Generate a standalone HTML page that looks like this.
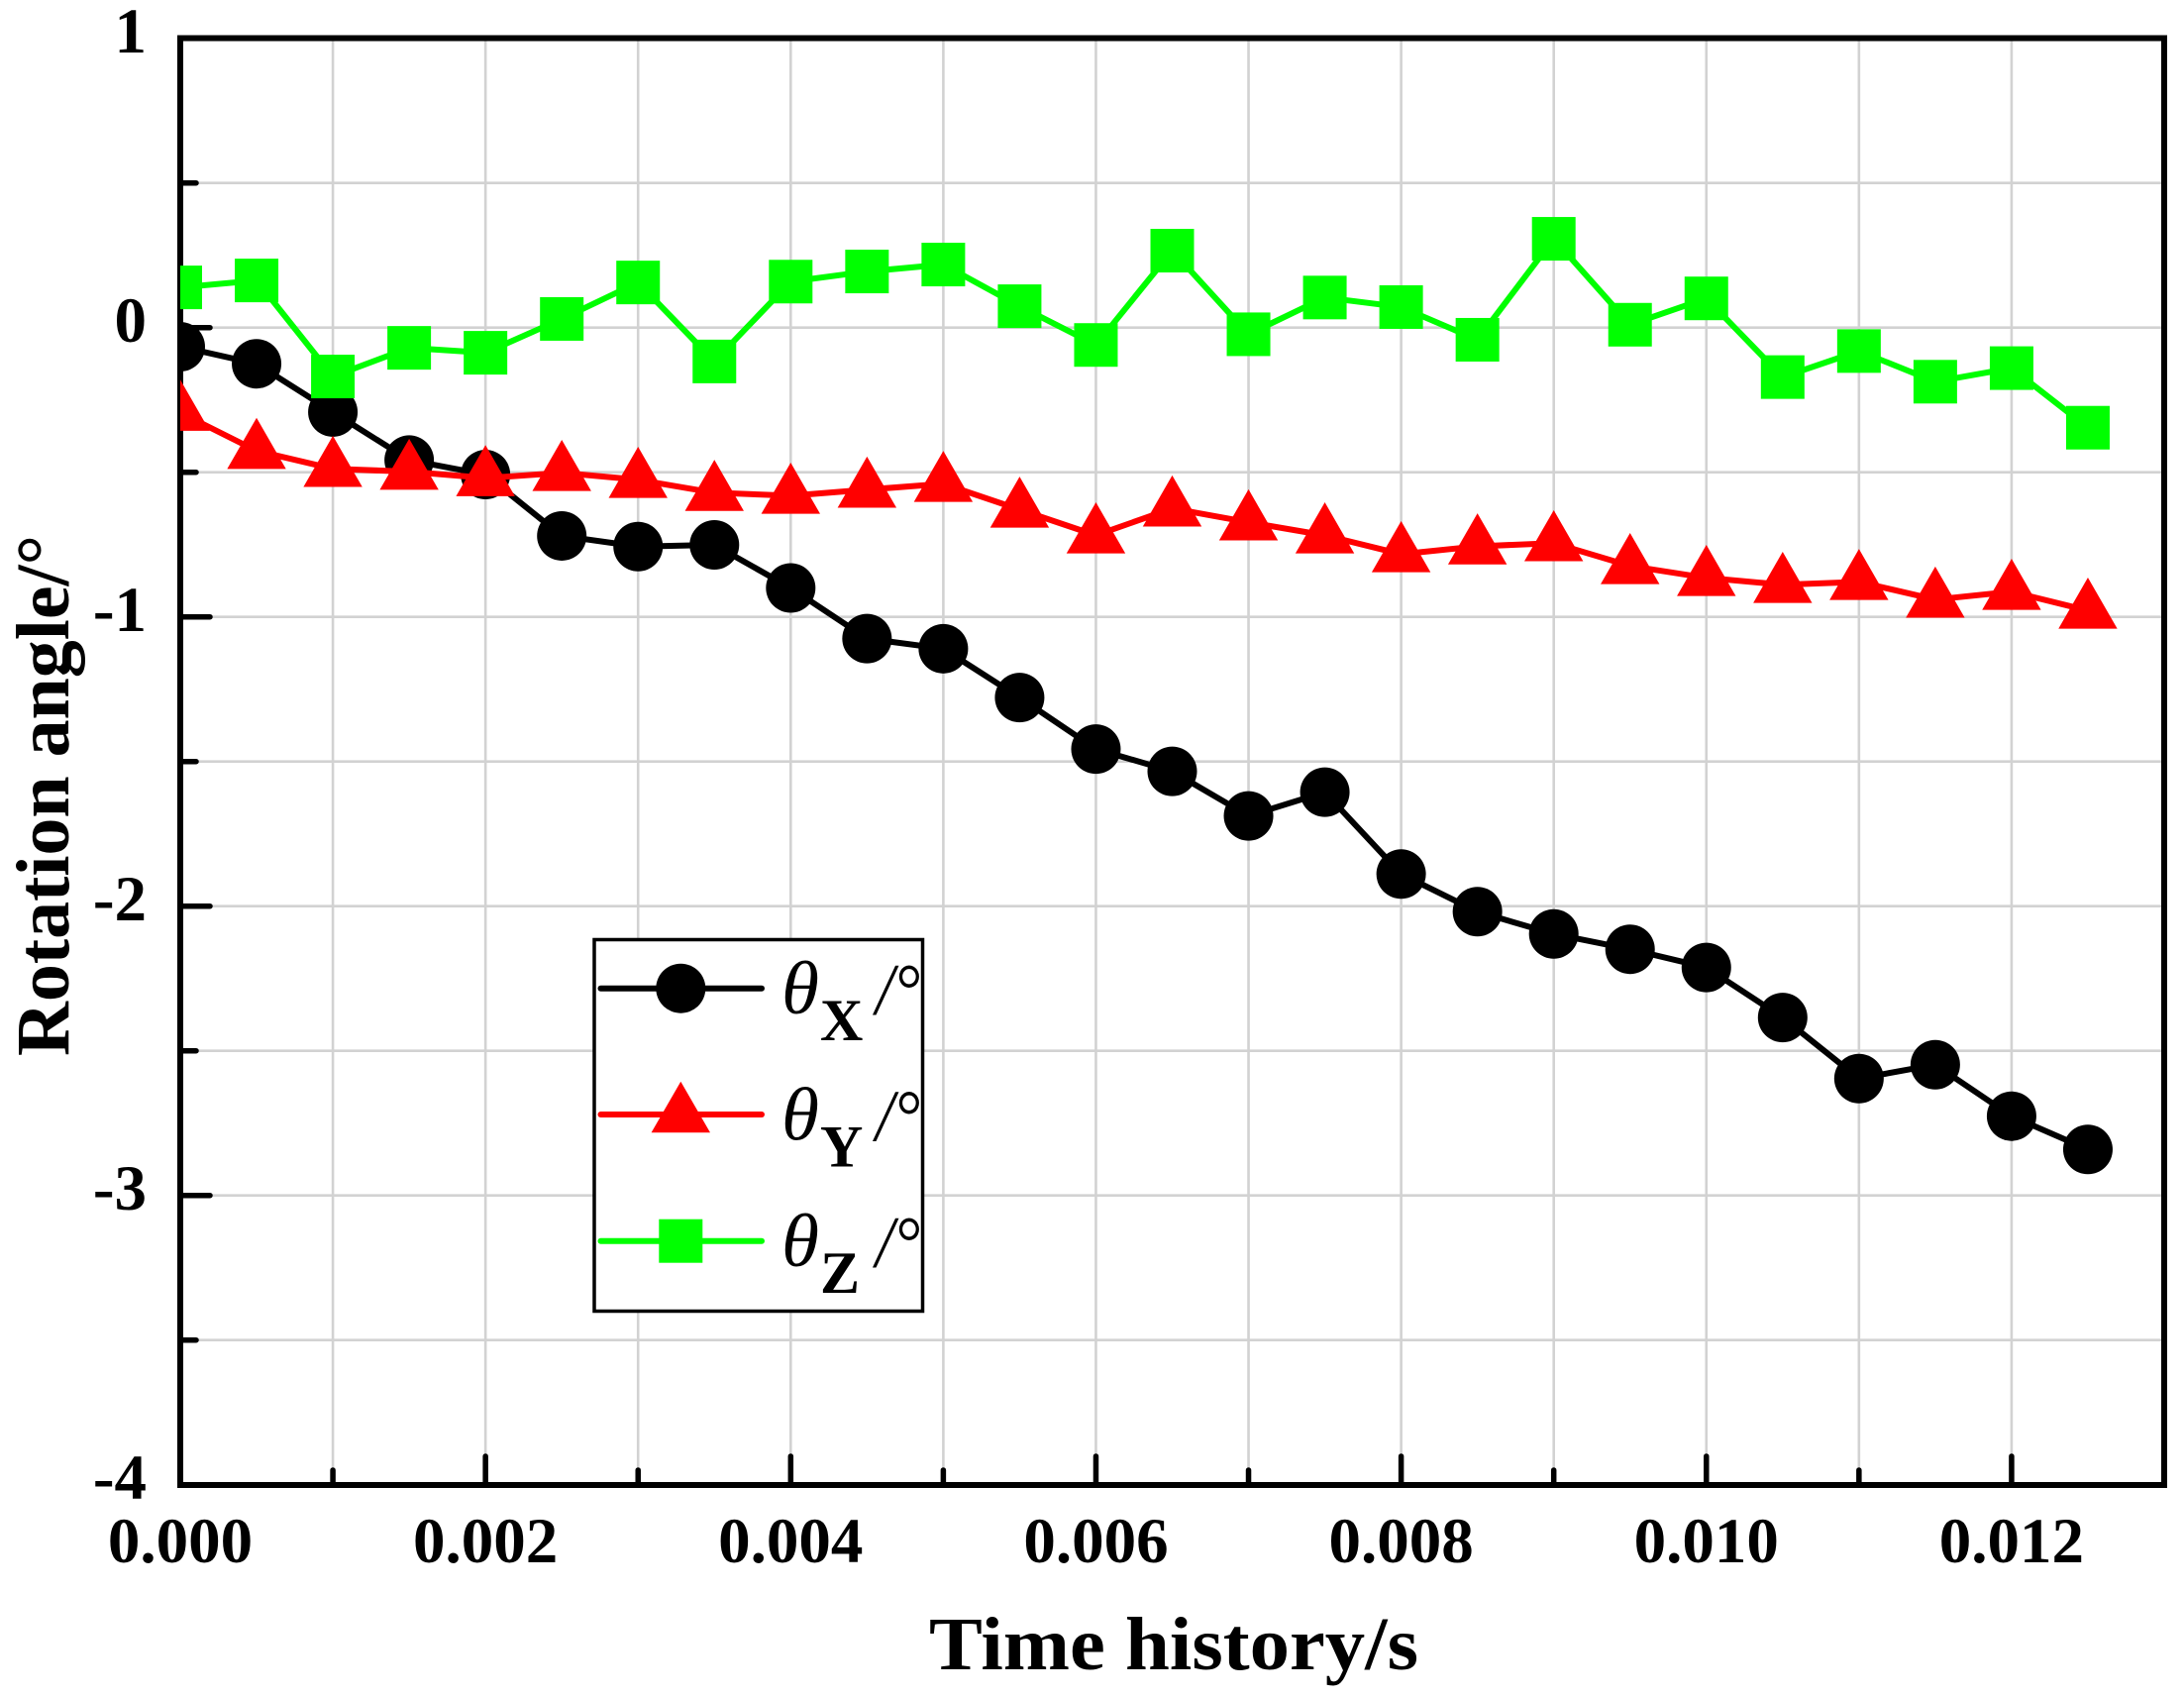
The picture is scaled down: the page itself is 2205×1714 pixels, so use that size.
<!DOCTYPE html>
<html lang="en">
<head>
<meta charset="utf-8">
<title>Rotation angle vs time history</title>
<style>
  html, body { margin: 0; padding: 0; background: #ffffff; }
  svg { display: block; }
  text { font-family: "Liberation Serif", serif; fill: #000; }
  .tick { font-size: 65px; font-weight: bold; }
  .axis-title { font-size: 76px; font-weight: bold; }
  .leg-theta { font-size: 76px; font-style: italic; }
  .leg-sub { font-size: 60px; font-weight: bold; }
  .leg-unit { font-size: 74px; font-style: italic; }
</style>
</head>
<body>
<svg id="chart" xmlns="http://www.w3.org/2000/svg" width="2205" height="1714" viewBox="0 0 2205 1714">
  <defs>
    <clipPath id="plot-clip"><rect x="182" y="38" width="2010" height="1470"></rect></clipPath>
  </defs>
  <rect x="0" y="0" width="2205" height="1714" fill="#ffffff"></rect>
  <g id="grid"></g>
  <rect x="182" y="38.5" width="2003" height="1460.5" fill="none" stroke="#000" stroke-width="6"></rect>
  <g id="ticks"></g>
  <g id="tick-labels"></g>
  <g id="series" clip-path="url(#plot-clip)"></g>

  <text class="axis-title" x="938" y="1685" textLength="494" lengthAdjust="spacingAndGlyphs">Time history/s</text>
  <text class="axis-title" transform="translate(69 1066) rotate(-90)" x="0" y="0" textLength="526" lengthAdjust="spacingAndGlyphs">Rotation angle/°</text>

  <g>
    <rect x="600" y="948.5" width="331.5" height="375" fill="#ffffff" stroke="#000" stroke-width="3.5"></rect>

    <g>
      <line x1="606.5" y1="997.7" x2="769" y2="997.7" stroke="#000" stroke-width="6" stroke-linecap="round"></line>
      <circle cx="687.3" cy="997.7" r="25" fill="#000"></circle>
      <text class="leg-theta" x="789" y="1023" textLength="38" lengthAdjust="spacingAndGlyphs">θ</text>
      <text class="leg-sub" x="828" y="1050">X</text>
      <text class="leg-unit" x="884" y="1024" textLength="45" lengthAdjust="spacingAndGlyphs">/°</text>
    </g>
    <g>
      <line x1="606.5" y1="1125" x2="769" y2="1125" stroke="#ff0000" stroke-width="6" stroke-linecap="round"></line>
      <polygon points="687.3,1091.7 717,1143.3 657.6,1143.3" fill="#ff0000"></polygon>
      <text class="leg-theta" x="789" y="1150.5" textLength="38" lengthAdjust="spacingAndGlyphs">θ</text>
      <text class="leg-sub" x="828" y="1177.5">Y</text>
      <text class="leg-unit" x="884" y="1151.5" textLength="45" lengthAdjust="spacingAndGlyphs">/°</text>
    </g>
    <g>
      <line x1="606.5" y1="1252.7" x2="769" y2="1252.7" stroke="#00ff00" stroke-width="6" stroke-linecap="round"></line>
      <rect x="665.3" y="1230.7" width="44" height="44" fill="#00ff00"></rect>
      <text class="leg-theta" x="789" y="1278" textLength="38" lengthAdjust="spacingAndGlyphs">θ</text>
      <text class="leg-sub" x="828" y="1305">Z</text>
      <text class="leg-unit" x="884" y="1279" textLength="45" lengthAdjust="spacingAndGlyphs">/°</text>
    </g>
  </g>
</svg>

<script>
const timeValues = [0, 0.0005, 0.001, 0.0015, 0.002, 0.0025, 0.003, 0.0035, 0.004, 0.0045, 0.005, 0.0055, 0.006, 0.0065, 0.007, 0.0075, 0.008, 0.0085, 0.009, 0.0095, 0.01, 0.0105, 0.011, 0.0115, 0.012, 0.0125];
const thetaX = [-0.066, -0.125, -0.292, -0.458, -0.508, -0.720, -0.757, -0.751, -0.900, -1.075, -1.110, -1.279, -1.457, -1.534, -1.688, -1.606, -1.889, -2.019, -2.096, -2.149, -2.212, -2.385, -2.596, -2.548, -2.726, -2.841];
const thetaY = [-0.294, -0.426, -0.488, -0.498, -0.520, -0.502, -0.526, -0.571, -0.581, -0.560, -0.540, -0.629, -0.718, -0.625, -0.673, -0.718, -0.783, -0.756, -0.745, -0.824, -0.865, -0.889, -0.879, -0.940, -0.913, -0.978];
const thetaZ = [0.139, 0.163, -0.169, -0.070, -0.087, 0.030, 0.156, -0.117, 0.159, 0.194, 0.218, 0.074, -0.060, 0.266, -0.023, 0.104, 0.071, -0.042, 0.307, 0.010, 0.101, -0.171, -0.081, -0.187, -0.140, -0.346];
const xMajorTicks = [0, 0.002, 0.004, 0.006, 0.008, 0.010, 0.012];
const xMinorTicks = [0.001, 0.003, 0.005, 0.007, 0.009, 0.011];
const xTickLabels = ["0.000", "0.002", "0.004", "0.006", "0.008", "0.010", "0.012"];
const yMajorTicks = [1, 0, -1, -2, -3, -4];
const yMinorTicks = [0.5, -0.5, -1.5, -2.5, -3.5];
const yTickLabels = ["1", "0", "-1", "-2", "-3", "-4"];

const NS = "http://www.w3.org/2000/svg";
const sx = v => 182 + (v / 0.013) * 2003;
const sy = v => 330.7 - v * 292;

function make(tag, attrs, parent) {
  const el = document.createElementNS(NS, tag);
  for (const k in attrs) el.setAttribute(k, attrs[k]);
  parent.appendChild(el);
  return el;
}

const gridG = document.getElementById("grid");
const ticksG = document.getElementById("ticks");
const labelsG = document.getElementById("tick-labels");
const seriesG = document.getElementById("series");

xMinorTicks.concat(xMajorTicks).filter(v => v > 0).forEach(v => {
  const el = make("line", { x1: sx(v), x2: sx(v), y1: 38, y2: 1499, stroke: "#d2d2d2", "stroke-width": 2.6 }, gridG);
  
  
});
yMajorTicks.concat(yMinorTicks).filter(v => v > -4 && v < 1).forEach(v => {
  const el = make("line", { x1: 182, x2: 2185, y1: sy(v), y2: sy(v), stroke: "#d2d2d2", "stroke-width": 2.6 }, gridG);
  
  
});

xMajorTicks.filter(v => v > 0).forEach(v => {
  const el = make("line", { x1: sx(v), x2: sx(v), y1: 1499, y2: 1470, stroke: "#000", "stroke-width": 5.5, "stroke-linecap": "round" }, ticksG);
  
  
});
xMinorTicks.forEach(v => {
  const el = make("line", { x1: sx(v), x2: sx(v), y1: 1499, y2: 1484, stroke: "#000", "stroke-width": 5.5, "stroke-linecap": "round" }, ticksG);
  
  
});
yMajorTicks.filter(v => v > -4 && v < 1).forEach(v => {
  const el = make("line", { x1: 182, x2: 212, y1: sy(v), y2: sy(v), stroke: "#000", "stroke-width": 5.5, "stroke-linecap": "round" }, ticksG);
  
  
});
yMinorTicks.forEach(v => {
  const el = make("line", { x1: 182, x2: 198, y1: sy(v), y2: sy(v), stroke: "#000", "stroke-width": 5.5, "stroke-linecap": "round" }, ticksG);
  
  
});

xMajorTicks.forEach((v, i) => {
  const el = make("text", { class: "tick", x: sx(v), y: 1577, "text-anchor": "middle" }, labelsG);
  el.textContent = xTickLabels[i];
  
  
});
yMajorTicks.forEach((v, i) => {
  const el = make("text", { class: "tick", x: 148, y: sy(v) + 14.5, "text-anchor": "end" }, labelsG);
  el.textContent = yTickLabels[i];
  
  
});

function drawLine(values, color, name) {
  const pts = values.map((v, i) => sx(timeValues[i]) + "," + sy(v)).join(" ");
  const el = make("polyline", { points: pts, fill: "none", stroke: color, "stroke-width": 6, "stroke-linejoin": "round" }, seriesG);
  
  
}

drawLine(thetaX, "#000000", "theta-x-line");
thetaX.forEach((v, i) => {
  const el = make("circle", { cx: sx(timeValues[i]), cy: sy(v), r: 25, fill: "#000000" }, seriesG);
  
  
});

drawLine(thetaY, "#ff0000", "theta-y-line");
thetaY.forEach((v, i) => {
  const x = sx(timeValues[i]), y = sy(v);
  const el = make("polygon", { points: x + "," + (y - 33.3) + " " + (x + 29.7) + "," + (y + 18.3) + " " + (x - 29.7) + "," + (y + 18.3), fill: "#ff0000" }, seriesG);
  
  
});

drawLine(thetaZ, "#00ff00", "theta-z-line");
thetaZ.forEach((v, i) => {
  const el = make("rect", { x: sx(timeValues[i]) - 22, y: sy(v) - 22, width: 44, height: 44, fill: "#00ff00" }, seriesG);
  
  
});
</script>
</body>
</html>
